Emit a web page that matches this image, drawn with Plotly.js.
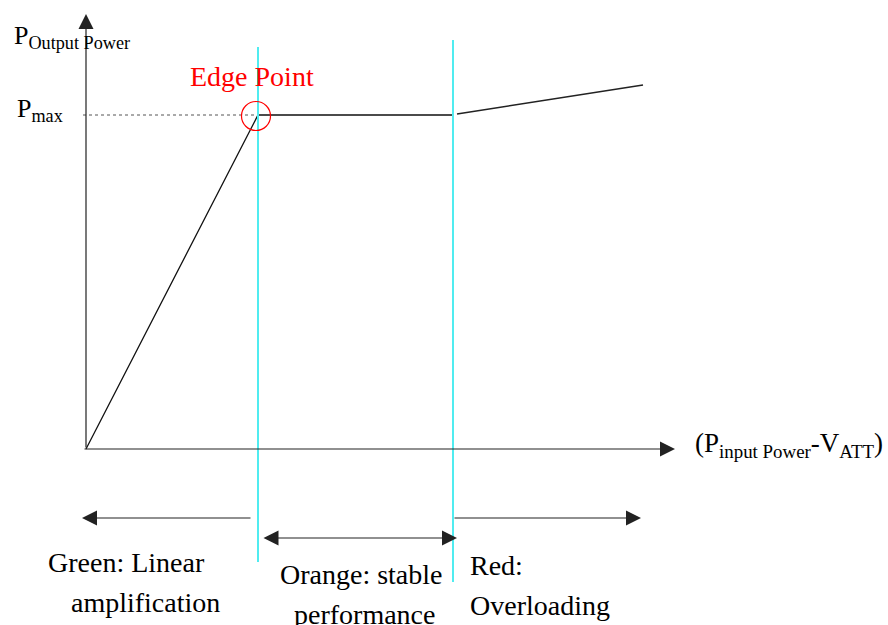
<!DOCTYPE html>
<html>
<head>
<meta charset="utf-8">
<script src="https://cdn.plot.ly/plotly-3.0.1.min.js"></script>
<style>html,body{margin:0;padding:0;background:#fff}#chart{width:888px;height:625px}</style>
</head>
<body>
<div id="chart"></div>
<script>
// ---- data (input level vs output power, diagram units) ----
const linearStableInput = [0, 172, 366];
const linearStableOutput = [0, 334, 334];
const overloadInput = [371, 557];
const overloadOutput = [335, 364];
const edgeIndex = 1;                 // index of the edge point in linearStableInput
const regionBounds = [172, 367];     // edge point, start of overloading
const axisMax = {x: 589, y: 435};
const regionNames = [
  ["Green: Linear", "amplification"],
  ["Orange: stable", "performance"],
  ["Red:", "Overloading"]
];

const FONT = "Liberation Serif";
const edgeX = linearStableInput[edgeIndex];
const edgeY = linearStableOutput[edgeIndex];
const pMax = edgeY;
const cyan = "rgb(80,236,240)";

const traces = [
  {x: linearStableInput, y: linearStableOutput, mode: "lines", line: {color: "#111", width: 1.3}, hoverinfo: "skip"},
  {x: overloadInput, y: overloadOutput, mode: "lines", line: {color: "#222", width: 1.5}, hoverinfo: "skip"},
  {x: [-3, edgeX], y: [pMax, pMax], mode: "lines", line: {color: "#555", width: 1, dash: "dot"}, hoverinfo: "skip"}
];

const shapes = [
  {type: "line", x0: regionBounds[0], x1: regionBounds[0], y0: 402, y1: -113, line: {color: cyan, width: 2}},
  {type: "line", x0: regionBounds[1], x1: regionBounds[1], y0: 409, y1: -133, line: {color: cyan, width: 2}},
  {type: "circle", x0: edgeX - 16.5, x1: edgeX + 12.5, y0: edgeY - 15.5, y1: edgeY + 13.5, line: {color: "red", width: 1.2}}
];

function arrow(x, y, ax, ay, both) {
  const a = {x: x, y: y, ax: ax, ay: ay, xref: "x", yref: "y", axref: "x", ayref: "y",
    text: "", showarrow: true, arrowhead: 2, arrowsize: 2.5, arrowwidth: 1.2, arrowcolor: "#222", standoff: 0};
  if (both) { a.arrowside = "end+start"; a.startarrowhead = 2; a.startarrowsize = 2.5; a.startstandoff = 0; }
  return a;
}
function label(text, px, py, size, color) {
  return {x: px - 86, y: 449 - py, xref: "x", yref: "y", text: text, showarrow: false,
    xanchor: "left", yanchor: "middle", font: {family: FONT, size: size, color: color || "#000"}};
}

const annotations = [
  arrow(0, axisMax.y, 0, 0),
  arrow(axisMax.x, 0, -3, 0),
  arrow(-4, -69, regionBounds[0] - 6, -69),
  arrow(regionBounds[1] + 4, -89, regionBounds[0] + 4, -89, true),
  arrow(555, -69, regionBounds[1], -69),
  label("P<sub>Output Power</sub>", 12, 37, 26),
  label("Edge Point", 188, 76, 28, "red"),
  label("P<sub>max</sub>", 15, 110, 26),
  label("(P<sub>input Power</sub>-V<sub>ATT</sub>)", 693, 445, 27),
  label(regionNames[0][0], 46, 562, 28),
  label(regionNames[0][1], 69, 602, 28),
  label(regionNames[1][0], 278, 574, 28),
  label(regionNames[1][1], 292, 614, 28),
  label(regionNames[2][0], 468, 565, 28),
  label(regionNames[2][1], 468, 605, 28)
];

const layout = {
  width: 888, height: 625,
  margin: {l: 0, r: 0, t: 0, b: 0},
  paper_bgcolor: "#fff", plot_bgcolor: "#fff",
  showlegend: false,
  font: {family: FONT},
  xaxis: {range: [-86, 802], visible: false, fixedrange: true},
  yaxis: {range: [-176, 449], visible: false, fixedrange: true},
  shapes: shapes,
  annotations: annotations
};

Plotly.newPlot("chart", traces, layout, {displayModeBar: false, staticPlot: true});
</script>
</body>
</html>
